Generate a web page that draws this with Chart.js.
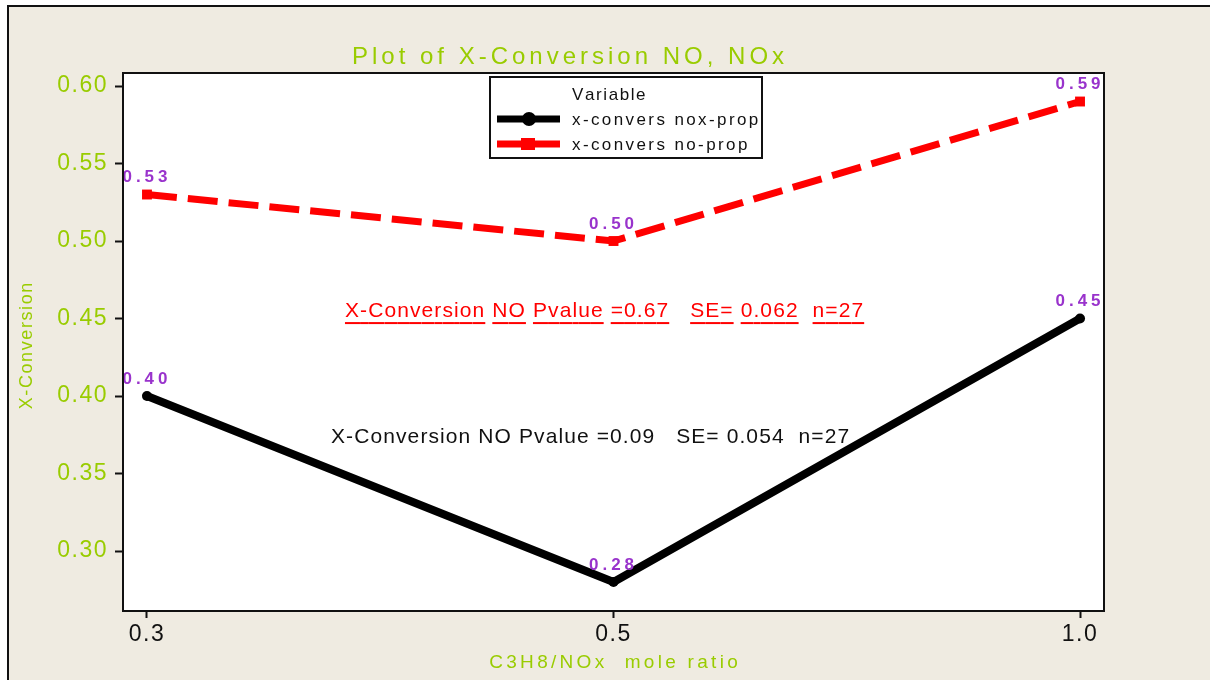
<!DOCTYPE html>
<html>
<head>
<meta charset="utf-8">
<script src="https://cdn.jsdelivr.net/npm/chart.js@4"></script>
<style>
  html, body { margin: 0; padding: 0; background: #ffffff; }
  #wrap { width: 1210px; height: 680px; }
</style>
</head>
<body>
<div id="wrap"><canvas id="plot" width="1210" height="680"></canvas></div>
<script>
// data
const ratioLabels = ["0.3", "0.5", "1.0"];
const noxProp = [0.40, 0.28, 0.45];
const noProp = [0.53, 0.50, 0.59];
const yTickValues = [0.30, 0.35, 0.40, 0.45, 0.50, 0.55, 0.60];
const seriesNames = ["x-convers nox-prop", "x-convers no-prop"];

const GREEN = "#99cc00";
const PURPLE = "#9933cc";
const BEIGE = "#efebe1";
const FONT = "'Liberation Sans', Arial, sans-serif";

// draws text one glyph at a time so the wide Minitab spacing can be copied
function spacedText(ctx, text, x, y, spacing, align, underline) {
    let total = 0;
    const widths = [];
    for (const ch of text) {
        const w = ctx.measureText(ch).width;
        widths.push(w);
        total += w + spacing;
    }
    total -= spacing;
    let cx = x;
    if (align === "center") cx = x - total / 2;
    if (align === "right") cx = x - total;
    ctx.textAlign = "left";
    let i = 0;
    for (const ch of text) {
        ctx.fillText(ch, cx, y);
        if (underline && ch !== " ") {
            ctx.fillRect(cx, y + 11, widths[i] + 1, 2);
        }
        cx += widths[i] + spacing;
        i++;
    }
}

const decorations = {
    id: "decorations",
    beforeDraw(chart) {
        const ctx = chart.ctx;
        const a = chart.chartArea;
        ctx.save();
        ctx.fillStyle = "#ffffff";
        ctx.fillRect(0, 0, chart.width, chart.height);
        ctx.fillStyle = BEIGE;
        ctx.fillRect(8, 6, chart.width - 8, chart.height - 6);
        ctx.strokeStyle = "#111111";
        ctx.lineWidth = 2;
        ctx.beginPath();
        ctx.moveTo(8, chart.height);
        ctx.lineTo(8, 6);
        ctx.lineTo(chart.width, 6);
        ctx.stroke();
        ctx.fillStyle = "#ffffff";
        ctx.fillRect(a.left, a.top, a.right - a.left, a.bottom - a.top);
        ctx.restore();
        ctx.letterSpacing = "1.5px";
    },
    afterDatasetsDraw(chart) {
        const ctx = chart.ctx;
        ctx.save();
        ctx.letterSpacing = "0px";
        ctx.font = "bold 17px " + FONT;
        ctx.fillStyle = PURPLE;
        ctx.textBaseline = "middle";
        chart.data.datasets.forEach((ds, di) => {
            chart.getDatasetMeta(di).data.forEach((pt, i) => {
                spacedText(ctx, ds.data[i].y.toFixed(2), pt.x - 2, pt.y - 17, 4, "center");
            });
        });
        ctx.restore();
    },
    afterDraw(chart) {
        const ctx = chart.ctx;
        const a = chart.chartArea;
        const xs = chart.scales.x;
        const ys = chart.scales.y;
        ctx.save();
        ctx.letterSpacing = "0px";

        // plot frame
        ctx.strokeStyle = "#111111";
        ctx.lineWidth = 2;
        ctx.strokeRect(a.left, a.top, a.right - a.left, a.bottom - a.top);

        // title
        ctx.textBaseline = "middle";
        ctx.fillStyle = GREEN;
        ctx.font = "24px " + FONT;
        spacedText(ctx, "Plot of X-Conversion NO, NOx", 568, 57, 4, "center");

        // axis titles
        ctx.font = "19px " + FONT;
        spacedText(ctx, "C3H8/NOx  mole ratio", (a.left + a.right) / 2, 663, 3.3, "center");
        ctx.save();
        ctx.translate(27, 346);
        ctx.rotate(-Math.PI / 2);
        ctx.font = "18px " + FONT;
        spacedText(ctx, "X-Conversion", 0, 0, 1.6, "center");
        ctx.restore();

        // test annotations
        ctx.font = "21px " + FONT;
        ctx.fillStyle = "#ff0000";
        spacedText(ctx, "X-Conversion NO Pvalue =0.67   SE= 0.062  n=27",
            xs.getPixelForValue(0.4244), ys.getPixelForValue(0.4548), 1.1, "left", true);
        ctx.fillStyle = "#111111";
        spacedText(ctx, "X-Conversion NO Pvalue =0.09   SE= 0.054  n=27",
            xs.getPixelForValue(0.3944), ys.getPixelForValue(0.3735), 1.1, "left");

        // legend box
        const lx = 490, ly = 77, lw = 272, lh = 81;
        ctx.fillStyle = "#ffffff";
        ctx.fillRect(lx, ly, lw, lh);
        ctx.strokeStyle = "#111111";
        ctx.lineWidth = 2;
        ctx.strokeRect(lx, ly, lw, lh);
        ctx.font = "17px " + FONT;
        ctx.fillStyle = "#111111";
        spacedText(ctx, "Variable", 572, 95, 1.6, "left");
        const rows = [
            { y: 119, color: "#000000", marker: "circle" },
            { y: 144, color: "#ff0000", marker: "rect" }
        ];
        rows.forEach((r, i) => {
            ctx.fillStyle = r.color;
            ctx.fillRect(497, r.y - 3.5, 63, 7);
            if (r.marker === "circle") {
                ctx.beginPath();
                ctx.arc(529, r.y, 7, 0, Math.PI * 2);
                ctx.fill();
            } else {
                ctx.fillRect(521, r.y - 6, 14, 12);
            }
            ctx.fillStyle = "#111111";
            spacedText(ctx, seriesNames[i], 572, r.y + 1, 2.4, "left");
        });
        ctx.restore();
    }
};

const ctx = document.getElementById("plot").getContext("2d");

new Chart(ctx, {
    type: "line",
    data: {
        datasets: [
            {
                label: seriesNames[1],
                data: noProp.map((v, i) => ({ x: i, y: v })),
                borderColor: "#ff0000",
                backgroundColor: "#ff0000",
                borderWidth: 7,
                borderDash: [30, 11],
                pointStyle: "rect",
                pointRadius: 7,
                pointBorderWidth: 0,
                tension: 0
            },
            {
                label: seriesNames[0],
                data: noxProp.map((v, i) => ({ x: i, y: v })),
                borderColor: "#000000",
                backgroundColor: "#000000",
                borderWidth: 8,
                pointStyle: "circle",
                pointRadius: 5,
                pointBorderWidth: 0,
                tension: 0
            }
        ]
    },
    options: {
        responsive: false,
        animation: false,
        layout: { padding: { left: 0, top: 73, right: 106, bottom: 0 } },
        plugins: {
            legend: { display: false },
            title: { display: false },
            tooltip: { enabled: false }
        },
        scales: {
            x: {
                type: "linear",
                min: -0.0514,
                max: 2.0514,
                afterBuildTicks: scale => {
                    scale.ticks = ratioLabels.map((_, i) => ({ value: i }));
                },
                afterFit: scale => { scale.height = 69; },
                grid: {
                    drawOnChartArea: false,
                    drawTicks: true,
                    tickLength: 7,
                    tickWidth: 2,
                    tickColor: "#111111"
                },
                border: { display: true, color: "#111111", width: 2 },
                ticks: {
                    color: "#111111",
                    font: { family: FONT, size: 23 },
                    padding: 3,
                    maxRotation: 0,
                    callback: v => ratioLabels[v]
                }
            },
            y: {
                type: "linear",
                min: 0.2613,
                max: 0.6084,
                afterBuildTicks: scale => {
                    scale.ticks = yTickValues.map(v => ({ value: v }));
                },
                afterFit: scale => { scale.width = 123; },
                grid: {
                    drawOnChartArea: false,
                    drawTicks: true,
                    tickLength: 8,
                    tickWidth: 2,
                    tickColor: "#111111"
                },
                border: { display: true, color: "#111111", width: 2 },
                ticks: {
                    color: GREEN,
                    font: { family: FONT, size: 23 },
                    padding: 7,
                    callback: v => v.toFixed(2)
                }
            }
        }
    },
    plugins: [decorations]
});
</script>
</body>
</html>
